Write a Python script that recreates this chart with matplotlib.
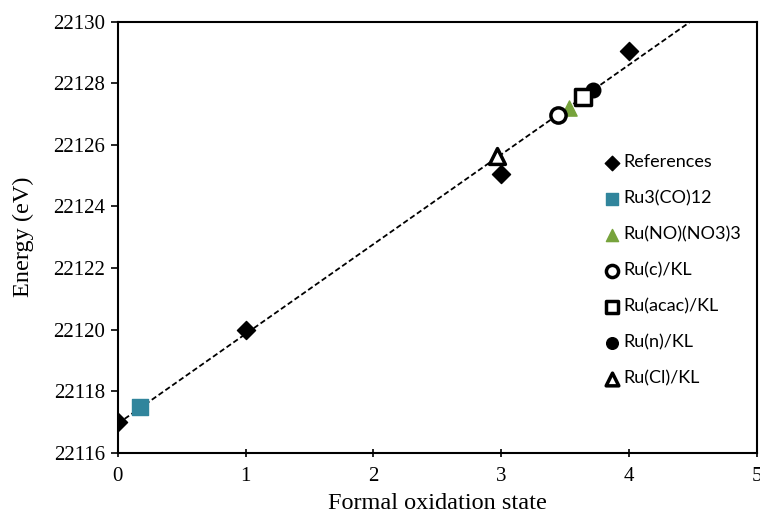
import numpy as np
import matplotlib.pyplot as plt

# Data
ref_x = [0, 1, 3, 4]
ref_y = [22117.0, 22120.0, 22125.05, 22129.05]

ru3co12_x = [0.17]
ru3co12_y = [22117.47]

runo_x = [3.53]
runo_y = [22127.2]

ruc_x = [3.44]
ruc_y = [22126.97]

ruacac_x = [3.64]
ruacac_y = [22127.56]

run_x = [3.72]
run_y = [22127.78]

rucl_x = [2.97]
rucl_y = [22125.65]

x_ticks = [0, 1, 2, 3, 4, 5]
y_ticks = [22116, 22118, 22120, 22122, 22124, 22126, 22128, 22130]

serif = "Liberation Serif"
legend_font = "Lato"

fig = plt.figure(figsize=(7.6, 5.18), dpi=100)
ax = fig.add_axes([0.155, 0.126, 0.841, 0.832])

# linear trendline through the reference compounds
k, b = np.polyfit(ref_x, ref_y, 1)
xl = np.linspace(0, 5, 200)
ax.plot(xl, k * xl + b, color="black", linestyle=(0, (3, 1.6)), linewidth=1.3, zorder=1)

ax.scatter(ref_x, ref_y, marker="D", s=85, color="black", label="References", zorder=3)
ax.scatter(ru3co12_x, ru3co12_y, marker="s", s=120, color="#31859C", label="Ru3(CO)12", zorder=3)
ax.scatter(runo_x, runo_y, marker="^", s=120, color="#77A33C", label="Ru(NO)(NO3)3", zorder=3)
ax.scatter(ruc_x, ruc_y, marker="o", s=120, facecolor="white", edgecolor="black",
           linewidth=2.5, label="Ru(c)/KL", zorder=4)
ax.scatter(ruacac_x, ruacac_y, marker="s", s=130, facecolor="white", edgecolor="black",
           linewidth=2.5, label="Ru(acac)/KL", zorder=4)
ax.scatter(run_x, run_y, marker="o", s=110, color="black", label="Ru(n)/KL", zorder=3)
ax.scatter(rucl_x, rucl_y, marker="^", s=130, facecolor="white", edgecolor="black",
           linewidth=2.5, label="Ru(Cl)/KL", zorder=4)

ax.set_xlim(0, 5)
ax.set_ylim(22116, 22130)
ax.set_xticks(x_ticks)
ax.set_yticks(y_ticks)
ax.tick_params(axis="y", direction="out", length=5, width=1.2, labelsize=15, pad=4)
ax.tick_params(axis="x", direction="inout", length=6, width=1.2, labelsize=15, pad=7)
for lab in ax.get_xticklabels() + ax.get_yticklabels():
    lab.set_fontfamily(serif)
for sp in ax.spines.values():
    sp.set_linewidth(1.5)

ax.set_xlabel("Formal oxidation state", fontfamily=serif, fontsize=17.5, labelpad=5)
ax.set_ylabel("Energy (eV)", fontfamily=serif, fontsize=17.5, labelpad=14)

leg = ax.legend(loc="upper left", bbox_to_anchor=(0.731, 0.73), frameon=False,
                handletextpad=0.05, labelspacing=1.1, handlelength=1.2,
                markerscale=0.8, prop={"family": legend_font, "size": 13})

fig.savefig("out.png", dpi=100)
